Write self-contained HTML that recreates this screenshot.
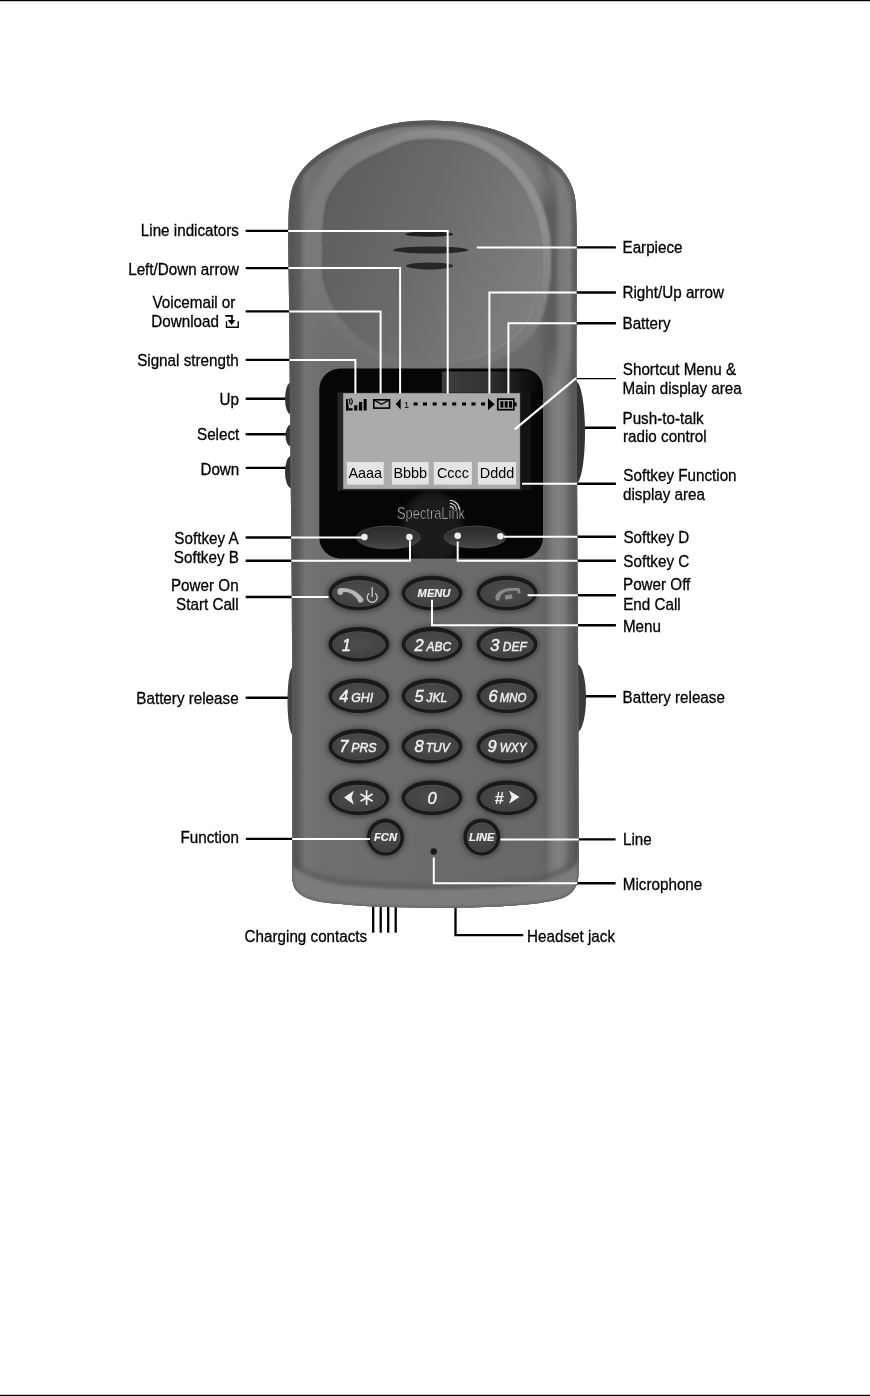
<!DOCTYPE html>
<html><head><meta charset="utf-8"><title>Handset</title>
<style>
html,body{margin:0;padding:0;background:#fff;}
body{width:870px;height:1396px;overflow:hidden;position:relative;font-family:"Liberation Sans",sans-serif;}
svg{position:absolute;left:0;top:0;display:block;will-change:transform;transform:translateZ(0);}
text{font-family:"Liberation Sans",sans-serif;font-size:17px;}
</style></head><body>
<svg width="870" height="1396" viewBox="0 0 870 1396">
<rect x="0" y="0" width="870" height="1396" fill="#fff"/>
<rect x="0" y="0" width="870" height="1.2" fill="#000"/>
<rect x="0" y="1394.8" width="870" height="1.2" fill="#000"/>
<g id="blacklines">
<polyline points="245.7,230.9 447.7,230.9 447.7,393.6" fill="none" stroke="#000" stroke-width="2.4"/>
<polyline points="245.7,268.1 400.1,268.1 400.1,393.6" fill="none" stroke="#000" stroke-width="2.4"/>
<polyline points="245.7,311.4 380.6,311.4 380.6,393.6" fill="none" stroke="#000" stroke-width="2.4"/>
<polyline points="245.7,359.9 355.4,359.9 355.4,393.6" fill="none" stroke="#000" stroke-width="2.4"/>
<polyline points="245.7,398.7 289,398.7" fill="none" stroke="#000" stroke-width="2.4"/>
<polyline points="245.7,434.3 289,434.3" fill="none" stroke="#000" stroke-width="2.4"/>
<polyline points="245.7,467.9 289,467.9" fill="none" stroke="#000" stroke-width="2.4"/>
<polyline points="245.7,537.5 361.5,537.5" fill="none" stroke="#000" stroke-width="2.4"/>
<polyline points="245.7,560.8 410,560.8 410,540.5" fill="none" stroke="#000" stroke-width="2.4"/>
<polyline points="245.7,597 328.5,597" fill="none" stroke="#000" stroke-width="2.4"/>
<polyline points="245.7,697.7 290,697.7" fill="none" stroke="#000" stroke-width="2.4"/>
<polyline points="245.8,838.9 370,838.9" fill="none" stroke="#000" stroke-width="2.4"/>
<polyline points="615.9,247.4 476.7,247.4" fill="none" stroke="#000" stroke-width="2.4"/>
<polyline points="615.9,292.5 489.4,292.5 489.4,393.6" fill="none" stroke="#000" stroke-width="2.4"/>
<polyline points="615.9,323.3 508.4,323.3 508.4,393.6" fill="none" stroke="#000" stroke-width="2.4"/>
<polyline points="615.9,378.7 575.5,378.7 514.7,429.4" fill="none" stroke="#000" stroke-width="1.3"/>
<polyline points="615.9,427.8 580,427.8" fill="none" stroke="#000" stroke-width="2.4"/>
<polyline points="615.9,483.8 522,483.8" fill="none" stroke="#000" stroke-width="2.4"/>
<polyline points="615.9,536.8 503.7,536.8" fill="none" stroke="#000" stroke-width="2.4"/>
<polyline points="615.9,560.8 457.7,560.8 457.7,541.5" fill="none" stroke="#000" stroke-width="2.4"/>
<polyline points="615.9,595.2 527.6,595.2" fill="none" stroke="#000" stroke-width="2.4"/>
<polyline points="615.9,625.3 432,625.3 432,599.7" fill="none" stroke="#000" stroke-width="2.4"/>
<polyline points="615.9,696.3 580,696.3" fill="none" stroke="#000" stroke-width="2.4"/>
<polyline points="615.6,839.4 500.4,839.4" fill="none" stroke="#000" stroke-width="2.4"/>
<polyline points="615.6,883.2 433.8,883.2 433.8,857.5" fill="none" stroke="#000" stroke-width="2.4"/>
<polyline points="455.5,904 455.5,935.2 523.2,935.2" fill="none" stroke="#000" stroke-width="2.3"/>
<polyline points="373.2,903 373.2,932.7" fill="none" stroke="#000" stroke-width="2.3"/>
<polyline points="380.7,903 380.7,932.7" fill="none" stroke="#000" stroke-width="2.3"/>
<polyline points="388.2,903 388.2,932.7" fill="none" stroke="#000" stroke-width="2.3"/>
<polyline points="395.7,903 395.7,932.7" fill="none" stroke="#000" stroke-width="2.3"/>
</g>
<defs>
<linearGradient id="gBody" x1="288" y1="0" x2="579" y2="0" gradientUnits="userSpaceOnUse">
<stop offset="0" stop-color="#686868"/><stop offset="0.012" stop-color="#5a5a5a"/><stop offset="0.036" stop-color="#5c5c5c"/>
<stop offset="0.06" stop-color="#747474"/><stop offset="0.12" stop-color="#6e6e6e"/>
<stop offset="0.5" stop-color="#6b6b6b"/><stop offset="0.865" stop-color="#686868"/><stop offset="0.885" stop-color="#646464"/>
<stop offset="0.905" stop-color="#787878"/><stop offset="0.93" stop-color="#828282"/><stop offset="0.952" stop-color="#787878"/>
<stop offset="0.968" stop-color="#626262"/><stop offset="0.988" stop-color="#5e5e5e"/><stop offset="1" stop-color="#707070"/>
</linearGradient>
<linearGradient id="gDome" x1="330" y1="200" x2="540" y2="285" gradientUnits="userSpaceOnUse">
<stop offset="0" stop-color="#5f5f5f"/><stop offset="0.4" stop-color="#696969"/><stop offset="0.75" stop-color="#767676"/><stop offset="1" stop-color="#7e7e7e"/>
</linearGradient>
<linearGradient id="gRing" x1="340" y1="330" x2="520" y2="150" gradientUnits="userSpaceOnUse">
<stop offset="0" stop-color="#7a7a7a" stop-opacity="0.3"/><stop offset="0.5" stop-color="#7e7e7e" stop-opacity="0.8"/><stop offset="0.85" stop-color="#8e8e8e"/><stop offset="1" stop-color="#909090"/>
</linearGradient>
<linearGradient id="gDomeEdge" x1="330" y1="160" x2="535" y2="345" gradientUnits="userSpaceOnUse">
<stop offset="0" stop-color="#505050"/><stop offset="0.5" stop-color="#666" stop-opacity="0.3"/><stop offset="1" stop-color="#959595"/>
</linearGradient>
<radialGradient id="gKey" cx="0.5" cy="0.45" r="0.6">
<stop offset="0" stop-color="#4e4e4e"/><stop offset="0.8" stop-color="#424242"/><stop offset="1" stop-color="#303030"/>
</radialGradient>
<linearGradient id="gBezelTop" x1="441" y1="0" x2="540" y2="0" gradientUnits="userSpaceOnUse">
<stop offset="0" stop-color="#3e3e3e"/><stop offset="0.45" stop-color="#333"/><stop offset="0.8" stop-color="#161616"/><stop offset="1" stop-color="#060606"/>
</linearGradient>
<linearGradient id="gRingOut" x1="0" y1="120" x2="0" y2="360" gradientUnits="userSpaceOnUse">
<stop offset="0" stop-color="#7c7c7c"/><stop offset="0.6" stop-color="#797979"/><stop offset="1" stop-color="#737373" stop-opacity="0.2"/>
</linearGradient>
<linearGradient id="gSoft" x1="0" y1="0" x2="0" y2="1"><stop offset="0" stop-color="#2a2a2a"/><stop offset="0.6" stop-color="#3a3a3a"/><stop offset="1" stop-color="#4a4a4a"/></linearGradient>
<linearGradient id="gRightTop" x1="536" y1="0" x2="579" y2="0" gradientUnits="userSpaceOnUse">
<stop offset="0" stop-color="#606060" stop-opacity="0"/><stop offset="0.25" stop-color="#5e5e5e"/><stop offset="0.42" stop-color="#5c5c5c"/><stop offset="0.56" stop-color="#787878"/><stop offset="0.78" stop-color="#7c7c7c"/><stop offset="0.86" stop-color="#626262"/><stop offset="0.96" stop-color="#5c5c5c"/><stop offset="1" stop-color="#757575"/>
</linearGradient>
<linearGradient id="gFadeV" x1="0" y1="165" x2="0" y2="385" gradientUnits="userSpaceOnUse">
<stop offset="0" stop-color="#000"/><stop offset="0.2" stop-color="#fff"/><stop offset="0.82" stop-color="#fff"/><stop offset="1" stop-color="#000"/>
</linearGradient>
<mask id="mRightTop" maskUnits="userSpaceOnUse" x="520" y="150" width="70" height="250"><rect x="520" y="150" width="70" height="250" fill="url(#gFadeV)"/></mask>
<filter id="b1" x="-10%" y="-10%" width="120%" height="120%"><feGaussianBlur stdDeviation="1"/></filter>
<filter id="b2" x="-10%" y="-10%" width="120%" height="120%"><feGaussianBlur stdDeviation="2"/></filter>
<filter id="b3" x="-10%" y="-10%" width="120%" height="120%"><feGaussianBlur stdDeviation="3.5"/></filter>
<clipPath id="cBody"><path id="bodyPath" d="M289.0,300.0 C288.8,275.9 287.9,251.8 288.3,227.7 C288.5,216.0 288.5,204.2 291.0,192.8 C292.6,185.5 295.9,178.6 300.2,172.5 C304.7,166.1 310.6,160.7 316.8,156.0 C324.2,150.4 332.5,146.2 340.7,141.8 C345.3,139.4 350.2,137.6 355.0,135.6 C360.2,133.5 365.4,131.3 370.7,129.6 C377.5,127.4 384.4,125.4 391.4,124.0 C398.2,122.6 405.1,121.7 412.0,121.1 C418.9,120.5 425.9,120.3 432.8,120.4 C439.7,120.5 446.6,120.9 453.4,121.6 C460.3,122.3 467.3,123.3 474.1,124.7 C481.1,126.1 488.0,127.6 494.8,129.8 C501.9,132.1 508.8,134.8 515.5,138.1 C524.1,142.4 532.3,147.2 540.3,152.5 C547.0,156.9 553.3,161.9 559.3,167.2 C561.7,169.2 563.6,171.8 565.4,174.3 C567.0,176.6 568.4,179.0 569.7,181.5 C570.9,183.8 571.7,186.3 572.6,188.7 C573.4,191.0 574.3,193.4 574.7,195.8 C575.5,200.5 575.9,205.2 576.1,210.0 C576.6,222.3 576.7,234.7 576.7,247.0 C576.8,281.3 576.3,315.7 576.4,350.0 C576.5,400.0 576.9,450.0 577.2,500.0 C577.4,540.0 577.7,580.0 577.9,620.0 C578.1,663.3 578.4,706.7 578.5,750.0 C578.6,790.0 578.9,830.0 578.6,870.0 C578.6,874.0 578.5,878.1 577.6,882.0 C577.0,884.5 575.8,886.9 574.3,889.0 C572.7,891.3 570.8,893.4 568.5,895.0 C566.3,896.6 563.6,897.8 561.0,898.6 C556.8,900.0 552.4,900.8 548.0,901.6 C542.6,902.6 537.2,903.6 531.7,904.1 C521.2,905.2 510.6,905.8 500.0,906.4 C490.0,906.9 480.0,907.2 470.0,907.4 C458.0,907.6 446.0,907.7 434.0,907.7 C422.7,907.7 411.3,907.4 400.0,907.2 C391.2,907.0 382.4,906.9 373.6,906.5 C364.9,906.1 356.3,905.4 347.6,904.7 C339.0,904.0 330.2,903.6 321.7,902.1 C315.8,901.0 309.9,899.4 304.5,896.9 C301.2,895.3 298.1,892.9 295.9,890.0 C294.0,887.4 293.1,884.2 292.6,881.0 C291.9,876.7 292.3,872.3 292.3,868.0 C292.2,812.0 292.3,756.0 292.2,700.0 C292.1,666.7 292.0,633.3 291.8,600.0 C291.6,566.7 291.2,533.3 290.9,500.0 C290.6,466.7 290.2,433.3 289.9,400.0 C289.6,366.7 289.3,333.3 289.0,300.0 Z"/></clipPath>
<clipPath id="cTop"><rect x="280" y="100" width="310" height="270"/></clipPath>
</defs>
<g id="phone">
<!-- side buttons -->
<ellipse cx="291" cy="398.5" rx="6" ry="16" fill="#333"/>
<ellipse cx="291" cy="435.5" rx="5.5" ry="11" fill="#333"/>
<ellipse cx="291" cy="472" rx="6" ry="16" fill="#333"/>
<ellipse cx="293" cy="701" rx="5.5" ry="34" fill="#444"/>
<ellipse cx="576" cy="432.5" rx="9" ry="51" fill="#333"/>
<ellipse cx="577" cy="698" rx="9" ry="34" fill="#3a3a3a"/>
<use href="#bodyPath" fill="url(#gBody)"/>
<g clip-path="url(#cBody)">
<!-- top shading -->
<path d="M561.5,262.0 C561.5,268.9 561.4,275.9 561.1,282.8 C560.9,287.7 560.5,292.5 560.0,297.4 C559.5,301.6 558.9,305.9 558.1,310.1 C557.4,313.9 556.5,317.8 555.5,321.6 C554.5,325.1 553.4,328.7 552.1,332.1 C550.9,335.4 549.5,338.6 548.0,341.8 C546.5,344.8 544.9,347.8 543.1,350.7 C541.4,353.5 539.6,356.2 537.6,358.8 C535.6,361.4 533.5,363.8 531.3,366.2 C529.1,368.5 526.8,370.7 524.3,372.8 C521.9,374.9 519.3,376.8 516.6,378.7 C513.9,380.5 511.1,382.2 508.2,383.8 C505.2,385.4 502.1,386.8 499.0,388.1 C495.7,389.4 492.4,390.6 489.0,391.6 C485.4,392.7 481.8,393.7 478.1,394.4 C474.1,395.2 470.1,395.9 466.1,396.4 C461.5,397.0 456.9,397.4 452.2,397.6 C445.7,397.9 439.1,398.0 432.5,398.0 C425.9,398.0 419.3,397.9 412.8,397.6 C408.1,397.4 403.5,397.0 398.9,396.4 C394.9,395.9 390.9,395.2 386.9,394.4 C383.2,393.7 379.6,392.7 376.0,391.6 C372.6,390.6 369.3,389.4 366.0,388.1 C362.9,386.8 359.8,385.4 356.8,383.8 C353.9,382.2 351.1,380.5 348.4,378.7 C345.7,376.8 343.1,374.9 340.7,372.8 C338.2,370.7 335.9,368.5 333.7,366.2 C331.5,363.8 329.4,361.4 327.4,358.8 C325.4,356.2 323.6,353.5 321.9,350.7 C320.1,347.8 318.5,344.8 317.0,341.8 C315.5,338.6 314.1,335.4 312.9,332.1 C311.6,328.7 310.5,325.1 309.5,321.6 C308.5,317.8 307.6,313.9 306.9,310.1 C306.1,305.9 305.5,301.6 305.0,297.4 C304.5,292.5 304.1,287.7 303.9,282.8 C303.6,275.9 303.5,268.9 303.5,262.0 C303.5,255.1 303.6,248.1 303.9,241.2 C304.1,236.3 304.5,231.5 305.0,226.6 C305.5,222.4 306.1,218.1 306.9,213.9 C307.6,210.1 308.5,206.2 309.5,202.4 C310.5,198.9 311.6,195.3 312.9,191.9 C314.1,188.6 315.5,185.4 317.0,182.2 C318.5,179.2 320.1,176.2 321.9,173.3 C323.6,170.5 325.4,167.8 327.4,165.2 C329.4,162.6 331.5,160.2 333.7,157.8 C335.9,155.5 338.2,153.3 340.7,151.2 C343.1,149.1 345.7,147.2 348.4,145.3 C351.1,143.5 353.9,141.8 356.8,140.2 C359.8,138.6 362.9,137.2 366.0,135.9 C369.3,134.6 372.6,133.4 376.0,132.4 C379.6,131.3 383.2,130.3 386.9,129.6 C390.9,128.8 394.9,128.1 398.9,127.6 C403.5,127.0 408.1,126.6 412.8,126.4 C419.3,126.1 425.9,126.0 432.5,126.0 C439.1,126.0 445.7,126.1 452.2,126.4 C456.9,126.6 461.5,127.0 466.1,127.6 C470.1,128.1 474.1,128.8 478.1,129.6 C481.8,130.3 485.4,131.3 489.0,132.4 C492.4,133.4 495.7,134.6 499.0,135.9 C502.1,137.2 505.2,138.6 508.2,140.2 C511.1,141.8 513.9,143.5 516.6,145.3 C519.3,147.2 521.9,149.1 524.3,151.2 C526.8,153.3 529.1,155.5 531.3,157.8 C533.5,160.2 535.6,162.6 537.6,165.2 C539.6,167.8 541.4,170.5 543.1,173.3 C544.9,176.2 546.5,179.2 548.0,182.2 C549.5,185.4 550.9,188.6 552.1,191.9 C553.4,195.3 554.5,198.9 555.5,202.4 C556.5,206.2 557.4,210.1 558.1,213.9 C558.9,218.1 559.5,222.4 560.0,226.6 C560.5,231.5 560.9,236.3 561.1,241.2 C561.4,248.1 561.5,255.1 561.5,262.0 Z" fill="url(#gRingOut)" filter="url(#b2)"/>
<use href="#bodyPath" fill="none" stroke="#555" stroke-width="9" filter="url(#b1)" opacity="0.95"/>
<rect x="536" y="150" width="44" height="250" fill="url(#gRightTop)" mask="url(#mRightTop)"/>
<path d="M431.8,133.9 C442.5,134.0 453.3,134.8 463.7,137.3 C472.6,139.4 481.1,142.9 489.0,147.5 C497.0,152.1 504.4,157.8 511.0,164.4 C517.5,170.9 523.1,178.4 527.9,186.3 C532.7,194.3 536.7,202.8 539.7,211.6 C542.6,219.8 544.5,228.4 545.6,237.0 C546.8,246.5 546.4,256.1 546.5,265.7 C546.5,270.5 546.5,275.4 545.7,280.1 C543.7,291.8 542.5,303.8 538.1,314.8 C534.6,323.5 529.2,331.5 522.6,338.0 C515.4,345.3 506.6,350.9 497.5,355.5 C488.4,360.0 478.5,363.2 468.6,365.1 C456.6,367.5 444.2,368.7 432.0,368.4 C420.5,368.1 409.0,366.1 397.9,363.1 C387.9,360.5 378.0,356.7 369.0,351.6 C361.8,347.5 355.5,341.9 349.7,336.1 C342.6,329.0 335.3,321.7 330.4,312.9 C324.6,302.8 320.1,291.6 317.8,280.1 C315.7,270.2 317.4,260.0 317.4,249.9 C317.4,241.9 317.0,233.8 317.8,225.8 C318.7,216.2 319.3,206.2 322.6,197.1 C325.5,189.2 330.7,182.3 336.1,175.8 C341.1,169.9 347.0,164.6 353.5,160.4 C361.9,154.9 371.4,151.1 380.6,146.8 C388.1,143.3 395.6,139.1 403.7,137.1 C412.8,134.8 422.4,133.9 431.8,133.9 Z" fill="none" stroke="url(#gRing)" stroke-width="9" filter="url(#b1)" clip-path="url(#cTop)"/>
<!-- bottom bevel -->
<path d="M286,858 Q298,877 340,884.5 Q433,894 528,884 Q568,877 581,858 L581,912 L286,912 Z" fill="#7b7b7b" filter="url(#b1)"/>
<path d="M286,855 Q298,874 340,881.5 Q433,891 528,881 Q568,874 581,855" fill="none" stroke="#5a5a5a" stroke-width="5" filter="url(#b2)" opacity="0.8"/>
<use href="#bodyPath" fill="none" stroke="#606060" stroke-width="3" filter="url(#b1)" opacity="0.7"/>
<!-- dome -->
<path d="M431.8,139.5 C442.0,139.5 452.3,140.4 462.2,142.7 C470.6,144.7 478.8,148.1 486.3,152.4 C493.9,156.8 501.0,162.3 507.2,168.5 C513.4,174.7 518.7,181.9 523.3,189.4 C527.9,197.0 531.7,205.1 534.6,213.5 C537.3,221.3 539.2,229.5 540.2,237.7 C541.3,246.7 541.0,255.9 541.0,265.0 C541.0,269.6 541.1,274.2 540.3,278.7 C538.4,289.8 537.2,301.3 533.0,311.8 C529.7,320.0 524.5,327.6 518.3,333.9 C511.5,340.8 503.1,346.2 494.4,350.5 C485.7,354.8 476.3,357.8 466.8,359.7 C455.4,362.0 443.6,363.1 432.0,362.8 C421.0,362.5 410.1,360.6 399.5,357.8 C390.0,355.3 380.6,351.6 372.0,346.8 C365.1,342.9 359.2,337.6 353.6,332.0 C346.8,325.2 339.9,318.3 335.2,310.0 C329.7,300.3 325.5,289.6 323.2,278.7 C321.3,269.3 322.8,259.6 322.8,250.0 C322.8,242.3 322.4,234.6 323.2,227.0 C324.1,217.8 324.6,208.4 327.8,199.7 C330.6,192.2 335.5,185.5 340.7,179.4 C345.4,173.8 351.0,168.7 357.2,164.7 C365.3,159.4 374.3,155.9 383.0,151.8 C390.2,148.4 397.3,144.4 405.0,142.5 C413.7,140.3 422.8,139.5 431.8,139.5 Z" fill="url(#gDome)"/>
<path d="M431.8,139.5 C442.0,139.5 452.3,140.4 462.2,142.7 C470.6,144.7 478.8,148.1 486.3,152.4 C493.9,156.8 501.0,162.3 507.2,168.5 C513.4,174.7 518.7,181.9 523.3,189.4 C527.9,197.0 531.7,205.1 534.6,213.5 C537.3,221.3 539.2,229.5 540.2,237.7 C541.3,246.7 541.0,255.9 541.0,265.0 C541.0,269.6 541.1,274.2 540.3,278.7 C538.4,289.8 537.2,301.3 533.0,311.8 C529.7,320.0 524.5,327.6 518.3,333.9 C511.5,340.8 503.1,346.2 494.4,350.5 C485.7,354.8 476.3,357.8 466.8,359.7 C455.4,362.0 443.6,363.1 432.0,362.8 C421.0,362.5 410.1,360.6 399.5,357.8 C390.0,355.3 380.6,351.6 372.0,346.8 C365.1,342.9 359.2,337.6 353.6,332.0 C346.8,325.2 339.9,318.3 335.2,310.0 C329.7,300.3 325.5,289.6 323.2,278.7 C321.3,269.3 322.8,259.6 322.8,250.0 C322.8,242.3 322.4,234.6 323.2,227.0 C324.1,217.8 324.6,208.4 327.8,199.7 C330.6,192.2 335.5,185.5 340.7,179.4 C345.4,173.8 351.0,168.7 357.2,164.7 C365.3,159.4 374.3,155.9 383.0,151.8 C390.2,148.4 397.3,144.4 405.0,142.5 C413.7,140.3 422.8,139.5 431.8,139.5 Z" fill="none" stroke="url(#gDomeEdge)" stroke-width="1.6" filter="url(#b1)"/>
<!-- earpiece slots -->
<ellipse cx="429.3" cy="234.2" rx="24" ry="2.6" fill="#1e1e1e"/>
<ellipse cx="430.7" cy="250" rx="37.6" ry="3.5" fill="#262626"/>
<ellipse cx="429.6" cy="265.9" rx="23.5" ry="3.5" fill="#262626"/>
<!-- bezel -->
<rect x="319.3" y="368.4" width="223.7" height="190" rx="21" ry="21" fill="#060606"/>
<clipPath id="cBezel"><rect x="319.3" y="368.4" width="223.7" height="190" rx="21" ry="21"/></clipPath>
<rect x="441.8" y="371.5" width="100" height="22" fill="url(#gBezelTop)" clip-path="url(#cBezel)"/>
<rect x="522" y="393" width="9" height="97" fill="#131313"/>
<rect x="337.5" y="392.4" width="184" height="98.2" fill="#262626"/>
<!-- LCD -->
<rect x="343.2" y="393.2" width="176.7" height="95.7" fill="#ababab"/>
<rect x="346.9" y="462" width="36.8" height="22.6" fill="#e4e4e4"/>
<rect x="391.9" y="462" width="36.8" height="22.6" fill="#e4e4e4"/>
<rect x="433.8" y="462" width="38.1" height="22.6" fill="#e4e4e4"/>
<rect x="477.9" y="462" width="38.1" height="22.6" fill="#e4e4e4"/>
<g style="font-size:15px" fill="#000">
<text x="365.3" y="478.3" text-anchor="middle" style="font-size:14.4px">Aaaa</text>
<text x="410.3" y="478.3" text-anchor="middle" style="font-size:14.4px">Bbbb</text>
<text x="452.9" y="478.3" text-anchor="middle" style="font-size:14.4px">Cccc</text>
<text x="497" y="478.3" text-anchor="middle" style="font-size:14.4px">Dddd</text>
</g>
<!-- softkey buttons -->
<g clip-path="url(#cBezel)"><ellipse cx="432" cy="528" rx="30" ry="36" fill="#2c2c2c" filter="url(#b3)" opacity="0.6"/></g>
<ellipse cx="388.3" cy="537.5" rx="32" ry="11.4" fill="url(#gSoft)" stroke="#4c4c4c" stroke-width="0.8"/>
<ellipse cx="475.2" cy="537.1" rx="31" ry="11" fill="url(#gSoft)" stroke="#4c4c4c" stroke-width="0.8"/>
<circle cx="364.4" cy="537.1" r="3.3" fill="#eee"/><circle cx="409.4" cy="537.1" r="3.3" fill="#eee"/>
<circle cx="457.7" cy="535.8" r="3.3" fill="#eee"/><circle cx="500.4" cy="536.2" r="3.3" fill="#eee"/>
<!-- keys -->
<ellipse cx="358.9" cy="593.5" rx="32.3" ry="19.3" fill="#3a3a3a" filter="url(#b2)" opacity="0.75"/><ellipse cx="358.9" cy="593" rx="30.3" ry="17.3" fill="#191919"/><ellipse cx="358.9" cy="593.5" rx="26.3" ry="12.9" fill="url(#gKey)" stroke="#5c5c5c" stroke-width="0.7"/>
<ellipse cx="432" cy="593.5" rx="32.3" ry="19.3" fill="#3a3a3a" filter="url(#b2)" opacity="0.75"/><ellipse cx="432" cy="593" rx="30.3" ry="17.3" fill="#191919"/><ellipse cx="432" cy="593.5" rx="26.3" ry="12.9" fill="url(#gKey)" stroke="#5c5c5c" stroke-width="0.7"/>
<ellipse cx="507" cy="593.5" rx="32.3" ry="19.3" fill="#3a3a3a" filter="url(#b2)" opacity="0.75"/><ellipse cx="507" cy="593" rx="30.3" ry="17.3" fill="#191919"/><ellipse cx="507" cy="593.5" rx="26.3" ry="12.9" fill="url(#gKey)" stroke="#5c5c5c" stroke-width="0.7"/>
<ellipse cx="358.9" cy="644.7" rx="32.3" ry="19.3" fill="#3a3a3a" filter="url(#b2)" opacity="0.75"/><ellipse cx="358.9" cy="644.2" rx="30.3" ry="17.3" fill="#191919"/><ellipse cx="358.9" cy="644.7" rx="26.3" ry="12.9" fill="url(#gKey)" stroke="#5c5c5c" stroke-width="0.7"/>
<ellipse cx="432" cy="644.7" rx="32.3" ry="19.3" fill="#3a3a3a" filter="url(#b2)" opacity="0.75"/><ellipse cx="432" cy="644.2" rx="30.3" ry="17.3" fill="#191919"/><ellipse cx="432" cy="644.7" rx="26.3" ry="12.9" fill="url(#gKey)" stroke="#5c5c5c" stroke-width="0.7"/>
<ellipse cx="507" cy="644.7" rx="32.3" ry="19.3" fill="#3a3a3a" filter="url(#b2)" opacity="0.75"/><ellipse cx="507" cy="644.2" rx="30.3" ry="17.3" fill="#191919"/><ellipse cx="507" cy="644.7" rx="26.3" ry="12.9" fill="url(#gKey)" stroke="#5c5c5c" stroke-width="0.7"/>
<ellipse cx="358.9" cy="696.3" rx="32.3" ry="19.3" fill="#3a3a3a" filter="url(#b2)" opacity="0.75"/><ellipse cx="358.9" cy="695.8" rx="30.3" ry="17.3" fill="#191919"/><ellipse cx="358.9" cy="696.3" rx="26.3" ry="12.9" fill="url(#gKey)" stroke="#5c5c5c" stroke-width="0.7"/>
<ellipse cx="432" cy="696.3" rx="32.3" ry="19.3" fill="#3a3a3a" filter="url(#b2)" opacity="0.75"/><ellipse cx="432" cy="695.8" rx="30.3" ry="17.3" fill="#191919"/><ellipse cx="432" cy="696.3" rx="26.3" ry="12.9" fill="url(#gKey)" stroke="#5c5c5c" stroke-width="0.7"/>
<ellipse cx="507" cy="696.3" rx="32.3" ry="19.3" fill="#3a3a3a" filter="url(#b2)" opacity="0.75"/><ellipse cx="507" cy="695.8" rx="30.3" ry="17.3" fill="#191919"/><ellipse cx="507" cy="696.3" rx="26.3" ry="12.9" fill="url(#gKey)" stroke="#5c5c5c" stroke-width="0.7"/>
<ellipse cx="358.9" cy="746.7" rx="32.3" ry="19.3" fill="#3a3a3a" filter="url(#b2)" opacity="0.75"/><ellipse cx="358.9" cy="746.2" rx="30.3" ry="17.3" fill="#191919"/><ellipse cx="358.9" cy="746.7" rx="26.3" ry="12.9" fill="url(#gKey)" stroke="#5c5c5c" stroke-width="0.7"/>
<ellipse cx="432" cy="746.7" rx="32.3" ry="19.3" fill="#3a3a3a" filter="url(#b2)" opacity="0.75"/><ellipse cx="432" cy="746.2" rx="30.3" ry="17.3" fill="#191919"/><ellipse cx="432" cy="746.7" rx="26.3" ry="12.9" fill="url(#gKey)" stroke="#5c5c5c" stroke-width="0.7"/>
<ellipse cx="507" cy="746.7" rx="32.3" ry="19.3" fill="#3a3a3a" filter="url(#b2)" opacity="0.75"/><ellipse cx="507" cy="746.2" rx="30.3" ry="17.3" fill="#191919"/><ellipse cx="507" cy="746.7" rx="26.3" ry="12.9" fill="url(#gKey)" stroke="#5c5c5c" stroke-width="0.7"/>
<ellipse cx="358.9" cy="798.2" rx="32.3" ry="19.3" fill="#3a3a3a" filter="url(#b2)" opacity="0.75"/><ellipse cx="358.9" cy="797.7" rx="30.3" ry="17.3" fill="#191919"/><ellipse cx="358.9" cy="798.2" rx="26.3" ry="12.9" fill="url(#gKey)" stroke="#5c5c5c" stroke-width="0.7"/>
<ellipse cx="432" cy="798.2" rx="32.3" ry="19.3" fill="#3a3a3a" filter="url(#b2)" opacity="0.75"/><ellipse cx="432" cy="797.7" rx="30.3" ry="17.3" fill="#191919"/><ellipse cx="432" cy="798.2" rx="26.3" ry="12.9" fill="url(#gKey)" stroke="#5c5c5c" stroke-width="0.7"/>
<ellipse cx="507" cy="798.2" rx="32.3" ry="19.3" fill="#3a3a3a" filter="url(#b2)" opacity="0.75"/><ellipse cx="507" cy="797.7" rx="30.3" ry="17.3" fill="#191919"/><ellipse cx="507" cy="798.2" rx="26.3" ry="12.9" fill="url(#gKey)" stroke="#5c5c5c" stroke-width="0.7"/>
<circle cx="385.5" cy="837.7" r="20" fill="#3a3a3a" filter="url(#b2)" opacity="0.75"/><circle cx="385.5" cy="837.2" r="18.4" fill="#191919"/><circle cx="385.5" cy="837.5" r="14.6" fill="url(#gKey)" stroke="#5c5c5c" stroke-width="0.7"/>
<circle cx="481.8" cy="837.6" r="20" fill="#3a3a3a" filter="url(#b2)" opacity="0.75"/><circle cx="481.8" cy="837.1" r="18.4" fill="#191919"/><circle cx="481.8" cy="837.4" r="14.6" fill="url(#gKey)" stroke="#5c5c5c" stroke-width="0.7"/>
<g style="fill:#f0f0f0;font-style:italic;stroke:#f0f0f0;stroke-width:0.45px">
<text transform="translate(341.8,650.5) scale(1.0,1)" style="font-size:16.5px" text-anchor="start">1</text>
<text transform="translate(414.4,650.5) scale(1.0,1)" style="font-size:16.5px" text-anchor="start">2</text>
<text transform="translate(426.6,650.5) scale(0.92,1)" style="font-size:13px" text-anchor="start">ABC</text>
<text transform="translate(490.3,650.5) scale(1.0,1)" style="font-size:16.5px" text-anchor="start">3</text>
<text transform="translate(502.8,650.5) scale(0.92,1)" style="font-size:13px" text-anchor="start">DEF</text>
<text transform="translate(339.2,701.6) scale(1.0,1)" style="font-size:16.5px" text-anchor="start">4</text>
<text transform="translate(351.2,701.6) scale(0.95,1)" style="font-size:13px" text-anchor="start">GHI</text>
<text transform="translate(414.4,701.6) scale(1.0,1)" style="font-size:16.5px" text-anchor="start">5</text>
<text transform="translate(426.6,701.6) scale(0.92,1)" style="font-size:13px" text-anchor="start">JKL</text>
<text transform="translate(488.5,701.6) scale(1.0,1)" style="font-size:16.5px" text-anchor="start">6</text>
<text transform="translate(499.8,701.6) scale(0.88,1)" style="font-size:13px" text-anchor="start">MNO</text>
<text transform="translate(339.2,751.8) scale(1.0,1)" style="font-size:16.5px" text-anchor="start">7</text>
<text transform="translate(351.2,751.8) scale(0.95,1)" style="font-size:13px" text-anchor="start">PRS</text>
<text transform="translate(414.4,751.8) scale(1.0,1)" style="font-size:16.5px" text-anchor="start">8</text>
<text transform="translate(425.8,751.8) scale(0.92,1)" style="font-size:13px" text-anchor="start">TUV</text>
<text transform="translate(487.5,751.8) scale(1.0,1)" style="font-size:16.5px" text-anchor="start">9</text>
<text transform="translate(499.8,751.8) scale(0.9,1)" style="font-size:13px" text-anchor="start">WXY</text>
<text transform="translate(432,803.6) scale(1.0,1)" style="font-size:16.5px" text-anchor="middle">0</text>
</g>
<g style="fill:#f0f0f0;font-style:italic;stroke:#f0f0f0;stroke-width:0.2px">
<text transform="translate(434,597) scale(0.97,1)" style="font-size:11.5px" font-weight="bold" text-anchor="middle">MENU</text>
<text transform="translate(385.5,841.3) scale(0.97,1)" style="font-size:11.5px" font-weight="bold" text-anchor="middle">FCN</text>
<text transform="translate(481.8,841.3) scale(0.97,1)" style="font-size:11.5px" font-weight="bold" text-anchor="middle">LINE</text>
</g>
<circle cx="433.8" cy="851.5" r="3.2" fill="#1a1a1a"/>
<g id="lcdicons" fill="#000">
<rect x="346" y="399.2" width="1.9" height="11.3"/>
<rect x="346" y="405" width="2.6" height="5.5"/>
<path d="M348.6,398.9 q2.6,2.6 0,5.3" stroke="#000" stroke-width="1.1" fill="none"/>
<path d="M350.6,398.2 q3.6,3.4 0,6.8" stroke="#000" stroke-width="1.1" fill="none"/>
<rect x="348.6" y="408.2" width="4" height="2.3"/>
<rect x="354.1" y="405.3" width="3.2" height="5.2"/>
<rect x="358.9" y="402" width="3.2" height="8.5"/>
<rect x="363.6" y="399" width="3" height="11.5"/>
<rect x="373.8" y="399.8" width="15.7" height="8.3" fill="none" stroke="#000" stroke-width="1.6"/>
<path d="M374,400 L381.6,404.3 L389.3,400" fill="none" stroke="#000" stroke-width="1.2"/>
<path d="M400.7,398.4 L400.7,409.4 L395.7,403.9 Z"/>
<text x="403.9" y="407.7" style="font-size:9.2px">1</text>
<rect x="413.6" y="402.4" width="4" height="3.1"/><rect x="423.0" y="402.4" width="4" height="3.1"/><rect x="432.7" y="402.4" width="4" height="3.1"/><rect x="442.5" y="402.4" width="4" height="3.1"/><rect x="452.2" y="402.4" width="4" height="3.1"/><rect x="462" y="402.4" width="4" height="3.1"/><rect x="471.5" y="402.4" width="4" height="3.1"/><rect x="481.1" y="402.4" width="4" height="3.1"/>
<path d="M488,398.3 L488,410.3 L494.6,404.3 Z"/>
<rect x="497.8" y="399.1" width="16" height="10.6" fill="none" stroke="#000" stroke-width="1.7"/>
<rect x="514.4" y="402.4" width="2.2" height="4"/>
<rect x="500.4" y="401.2" width="3" height="6.4"/><rect x="504.7" y="401.2" width="3" height="6.4"/><rect x="509.0" y="401.2" width="3" height="6.4"/>
</g>
<g id="logo" style="fill:#dcdcdc">
<text x="397" y="518.6" textLength="68" lengthAdjust="spacingAndGlyphs" style="font-size:15.6px" stroke="#060606" stroke-width="0.55">SpectraLink</text>
<g fill="none" stroke="#dcdcdc" stroke-width="1.1"><path d="M449.8,506.2 a3.6,3.6 0 0 1 3.6,3.6"/><path d="M449.8,503.2 a6.6,6.6 0 0 1 6.6,6.6"/><path d="M449.8,500.2 a9.6,9.6 0 0 1 9.6,9.6"/></g>
</g>
<g id="keyicons">
<path d="M337.5,590 C338,588.6 340,588 342,588 C346,587.6 351,588.8 355.5,591.5 C358.8,593.6 361.5,596.2 363.4,599 C364,600.5 363,602 361.2,602.6 C360,603 358.8,602.6 358.2,601.4 L357.4,599.6 C355.5,596.8 353,594.5 349.8,593 C347.5,592 345,591.7 343,592.2 L342.2,594.4 C341.5,595 340,595 338.8,594.6 C337.5,594 337.2,592 337.5,590 Z" fill="#b6b6b6"/>
<path d="M369.3,593.2 a5,5 0 1 0 5.8,0" fill="none" stroke="#cacaca" stroke-width="1.35"/><line x1="372.2" y1="587.2" x2="372.2" y2="597" stroke="#cacaca" stroke-width="1.35"/>
<path d="M495.2,597.5 C496.5,592.5 500.5,589.8 505.5,588.7 C510,587.8 515,587.8 519.6,588.3 L520.6,593.2 L517.8,593.6 L517.4,591 C513,590.6 509,590.8 505.8,591.7 C502.4,592.8 500.2,595.4 499.4,600.3 L496.2,600.4 Z" fill="#8a8a8a"/>
<path d="M504.8,595.4 L511.8,594.2 L512.5,598.5 L505.4,599.6 Z" fill="#8a8a8a"/>
<path d="M344,797.5 L353.8,790.8 L351.6,797.5 L353.8,804.4 Z" fill="#f0f0f0"/>
<g stroke="#f0f0f0" stroke-width="1.7"><line x1="366.6" y1="790.3" x2="366.6" y2="805"/><line x1="360.5" y1="794" x2="372.7" y2="801.3"/><line x1="372.7" y1="794" x2="360.5" y2="801.3"/></g>
<text x="494.6" y="803.6" style="font-size:16.5px;font-weight:bold;font-style:italic;fill:#f0f0f0">#</text>
<path d="M519.5,797 L509,790.5 L511.6,797 L509,803.8 Z" fill="#f0f0f0"/>
</g>
<!--MORE2-->
</g>
</g>

<g id="whitelines" clip-path="url(#cBody)">
<polyline points="245.7,230.9 447.7,230.9 447.7,393.6" fill="none" stroke="#fff" stroke-width="2.0"/>
<polyline points="245.7,268.1 400.1,268.1 400.1,393.6" fill="none" stroke="#fff" stroke-width="2.0"/>
<polyline points="245.7,311.4 380.6,311.4 380.6,393.6" fill="none" stroke="#fff" stroke-width="2.0"/>
<polyline points="245.7,359.9 355.4,359.9 355.4,393.6" fill="none" stroke="#fff" stroke-width="2.0"/>
<polyline points="245.7,398.7 289,398.7" fill="none" stroke="#fff" stroke-width="2.0"/>
<polyline points="245.7,434.3 289,434.3" fill="none" stroke="#fff" stroke-width="2.0"/>
<polyline points="245.7,467.9 289,467.9" fill="none" stroke="#fff" stroke-width="2.0"/>
<polyline points="245.7,537.5 361.5,537.5" fill="none" stroke="#fff" stroke-width="2.0"/>
<polyline points="245.7,560.8 410,560.8 410,540.5" fill="none" stroke="#fff" stroke-width="2.0"/>
<polyline points="245.7,597 328.5,597" fill="none" stroke="#fff" stroke-width="2.0"/>
<polyline points="245.7,697.7 290,697.7" fill="none" stroke="#fff" stroke-width="2.0"/>
<polyline points="245.8,838.9 370,838.9" fill="none" stroke="#fff" stroke-width="2.0"/>
<polyline points="615.9,247.4 476.7,247.4" fill="none" stroke="#fff" stroke-width="2.0"/>
<polyline points="615.9,292.5 489.4,292.5 489.4,393.6" fill="none" stroke="#fff" stroke-width="2.0"/>
<polyline points="615.9,323.3 508.4,323.3 508.4,393.6" fill="none" stroke="#fff" stroke-width="2.0"/>
<polyline points="615.9,378.7 575.5,378.7 514.7,429.4" fill="none" stroke="#fff" stroke-width="2.2"/>
<polyline points="615.9,427.8 580,427.8" fill="none" stroke="#fff" stroke-width="2.0"/>
<polyline points="615.9,483.8 522,483.8" fill="none" stroke="#fff" stroke-width="2.0"/>
<polyline points="615.9,536.8 503.7,536.8" fill="none" stroke="#fff" stroke-width="2.0"/>
<polyline points="615.9,560.8 457.7,560.8 457.7,541.5" fill="none" stroke="#fff" stroke-width="2.0"/>
<polyline points="615.9,595.2 527.6,595.2" fill="none" stroke="#fff" stroke-width="2.0"/>
<polyline points="615.9,625.3 432,625.3 432,599.7" fill="none" stroke="#fff" stroke-width="2.0"/>
<polyline points="615.9,696.3 580,696.3" fill="none" stroke="#fff" stroke-width="2.0"/>
<polyline points="615.6,839.4 500.4,839.4" fill="none" stroke="#fff" stroke-width="2.0"/>
<polyline points="615.6,883.2 433.8,883.2 433.8,857.5" fill="none" stroke="#fff" stroke-width="2.0"/>
</g>
<g id="dlicon" fill="none" stroke="#000">
<path d="M225.2,315.9 H232 V320.5" stroke-width="1.7"/>
<path d="M227.7,320 H235.5 L231.6,325 Z" fill="#000" stroke="none"/>
<path d="M226.5,321.2 V327.3 H238.2 V321.2" stroke-width="1.4"/>
</g>
<g id="labels" stroke="#000" stroke-width="0.3">
<text transform="translate(238.9,236.4) scale(0.895,1)" text-anchor="end">Line indicators</text>
<text transform="translate(238.9,274.5) scale(0.895,1)" text-anchor="end">Left/Down arrow</text>
<text transform="translate(235.4,307.7) scale(0.895,1)" text-anchor="end">Voicemail or</text>
<text transform="translate(238.6,366.3) scale(0.895,1)" text-anchor="end">Signal strength</text>
<text transform="translate(238.9,404.8) scale(0.895,1)" text-anchor="end">Up</text>
<text transform="translate(239.3,440.3) scale(0.895,1)" text-anchor="end">Select</text>
<text transform="translate(239.3,474.5) scale(0.895,1)" text-anchor="end">Down</text>
<text transform="translate(238.6,544.3) scale(0.895,1)" text-anchor="end">Softkey A</text>
<text transform="translate(238.9,563.3) scale(0.895,1)" text-anchor="end">Softkey B</text>
<text transform="translate(238.6,590.5) scale(0.895,1)" text-anchor="end">Power On</text>
<text transform="translate(238.6,610.2) scale(0.895,1)" text-anchor="end">Start Call</text>
<text transform="translate(238.6,703.7) scale(0.895,1)" text-anchor="end">Battery release</text>
<text transform="translate(238.9,843.4) scale(0.895,1)" text-anchor="end">Function</text>
<text transform="translate(622.5,253.3) scale(0.895,1)">Earpiece</text>
<text transform="translate(622.5,298.3) scale(0.895,1)">Right/Up arrow</text>
<text transform="translate(622.5,328.8) scale(0.895,1)">Battery</text>
<text transform="translate(622.8,375) scale(0.895,1)">Shortcut Menu &amp;</text>
<text transform="translate(622.5,394) scale(0.895,1)">Main display area</text>
<text transform="translate(622.5,423.9) scale(0.895,1)">Push-to-talk</text>
<text transform="translate(623.0,442.2) scale(0.895,1)">radio control</text>
<text transform="translate(623.3,480.5) scale(0.895,1)">Softkey Function</text>
<text transform="translate(623.0,499.5) scale(0.895,1)">display area</text>
<text transform="translate(623.4,543.2) scale(0.895,1)">Softkey D</text>
<text transform="translate(623.3,566.6) scale(0.895,1)">Softkey C</text>
<text transform="translate(623.0,590.2) scale(0.895,1)">Power Off</text>
<text transform="translate(623.2,609.9) scale(0.895,1)">End Call</text>
<text transform="translate(622.9,632.1) scale(0.895,1)">Menu</text>
<text transform="translate(622.6,702.7) scale(0.895,1)">Battery release</text>
<text transform="translate(623.0,844.6) scale(0.895,1)">Line</text>
<text transform="translate(622.8,889.5) scale(0.895,1)">Microphone</text>
<text transform="translate(527.1,942.3) scale(0.895,1)">Headset jack</text>
<text transform="translate(244.6,942.1) scale(0.895,1)">Charging contacts</text>
<text transform="translate(151.3,327.2) scale(0.895,1)">Download</text>
</g>
</svg>
</body></html>
